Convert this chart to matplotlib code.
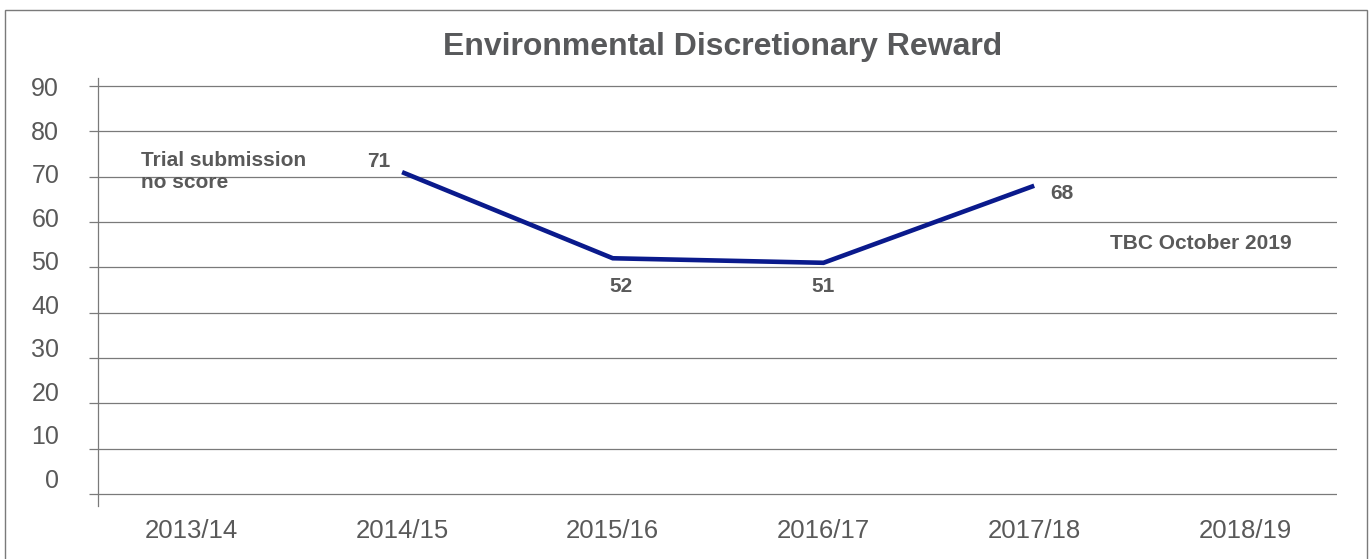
#!/usr/bin/env python
# -*- coding: utf-8 -*-

# Environmental Discretionary Reward scores per year (line chart)

import matplotlib
matplotlib.use('Agg')
import matplotlib.pyplot as plt
from matplotlib.patches import Rectangle

years = ['2013/14', '2014/15', '2015/16', '2016/17', '2017/18', '2018/19']
score_idx = [1, 2, 3, 4]  # years that have a score
scores = [71, 52, 51, 68]
yticks = [0, 10, 20, 30, 40, 50, 60, 70, 80, 90]

plt.rcParams['font.family'] = ['Liberation Sans', 'DejaVu Sans']
grey = '#595959'
line_grey = '#7a7a7a'

fig = plt.figure(figsize=(13.71, 5.59), dpi=100)

# thin frame round the whole picture
fig.patches.append(Rectangle((0.0033, -0.01), 0.9935, 0.993, transform=fig.transFigure,
                             fill=False, edgecolor=line_grey, linewidth=1.0))

pos = [0.0715, 0.0948, 0.9037, 0.7657]
ax = fig.add_axes(pos)
ax.plot(score_idx, scores, color='#0a1a8c', linewidth=3.3, solid_capstyle='butt',
        solid_joinstyle='miter', zorder=3)

ax.set_xlim(-0.443, 5.437)
ax.set_ylim(-2.65, 91.77)
ax.set_xticks(range(len(years)))
ax.set_xticklabels(years, fontsize=18.5, color=grey)
ax.tick_params(axis='x', length=0, pad=9)
ax.set_yticks(yticks)
ax.tick_params(axis='y', length=6.5, width=0.9, color=line_grey, labelleft=False)
ax.grid(axis='y', color=line_grey, linewidth=0.9)
ax.set_axisbelow(True)
for s in ['top', 'right', 'bottom']:
    ax.spines[s].set_visible(False)
ax.spines['left'].set_color(line_grey)
ax.spines['left'].set_linewidth(0.9)

# y labels sit on a slightly squeezed scale in the original
lab = fig.add_axes(pos, frameon=False)
lab.set_ylim(-6.44, 92.07)
lab.set_xticks([])
lab.set_yticks(yticks)
lab.set_yticklabels([str(v) for v in yticks], fontsize=18, color=grey)
lab.tick_params(axis='y', length=0, pad=28)
lab.patch.set_visible(False)

# value labels
offsets = [(-8.5, 8, 'right'), (6, -20.5, 'center'), (0, -17, 'center'), (11.5, -5.5, 'left')]
for xi, v, (dx, dy, ha) in zip(score_idx, scores, offsets):
    ax.annotate(str(v), (xi, v), xytext=(dx, dy), textcoords='offset points',
                ha=ha, va='center', fontsize=15, fontweight='bold', color=grey)

ax.text(-0.24, 75.6, 'Trial submission\nno score', ha='left', va='top',
        fontsize=15, fontweight='bold', color=grey, linespacing=1.2)
ax.text(4.79, 55.2, 'TBC October 2019', ha='center', va='center',
        fontsize=15, fontweight='bold', color=grey)

fig.text(0.527, 0.916, 'Environmental Discretionary Reward', ha='center', va='center',
         fontsize=23, fontweight='bold', color='#58595b')

plt.savefig('out.png', dpi=100)
